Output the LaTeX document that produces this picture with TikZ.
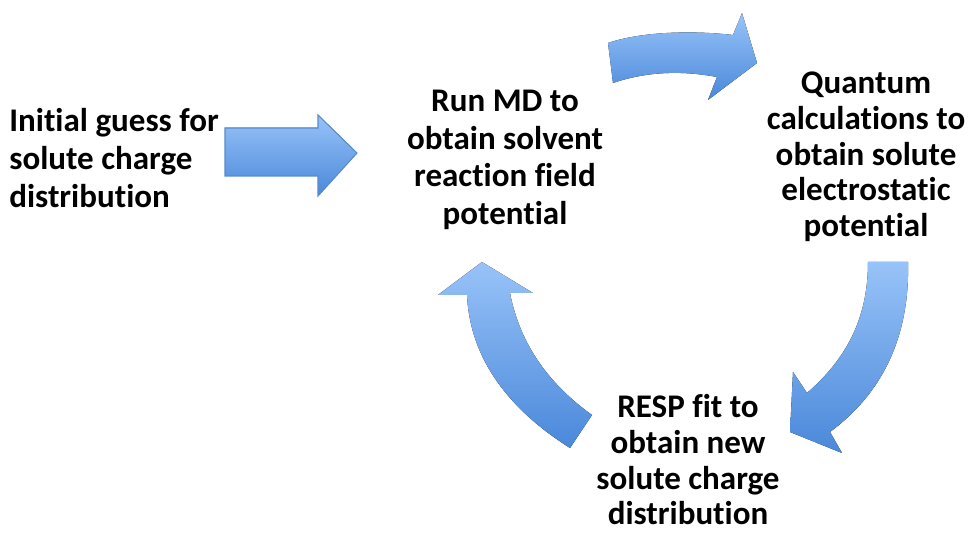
\documentclass[tikz,border=0pt]{standalone}
\usepackage{fontspec}
\setmainfont{Carlito}[Ligatures=NoCommon]
\definecolor{arrowtop}{RGB}{152,195,248}
\definecolor{arrowbot}{RGB}{74,136,218}
\definecolor{arrowline}{RGB}{88,138,205}
\tikzstyle{stage}=[font=\fontsize{18.8}{21.5}\selectfont\bfseries, align=center, inner sep=0pt]
\tikzstyle{stageTight}=[stage, font=\fontsize{18.8}{20.3}\selectfont\bfseries]
\tikzstyle{loopArrow}=[top color=arrowtop, bottom color=arrowbot, draw=none]
\tikzstyle{startArrow}=[loopArrow, draw=arrowline, line width=0.6pt]

\begin{document}
\begin{tikzpicture}[x=0.02cm,y=-0.02cm]
	\useasboundingbox (0,0) rectangle (968,533);
	% Define the nodes in the picture
	\node (init_guess) [stage, align=left, anchor=west] at (9,158) {Initial guess for\\solute charge\\distribution};
	\node (run_md) [stage] at (505,160) {Run MD to\\obtain solvent\\reaction field\\potential};
	\node (quantum) [stageTight] at (866,157) {Quantum\\calculations to\\obtain solute\\electrostatic\\potential};
	\node (resp_fit) [stageTight] at (688,460) {RESP fit to\\obtain new\\solute charge\\distribution};

	% Define the arrows in the picture
	\fill [startArrow] (225,128) -- (318,128) -- (318,115) -- (357,153)
		-- (318,196) -- (318,176) -- (225,176) -- cycle;
	\fill [loopArrow] (608,43) .. controls (640,32) and (690,30) .. (733,35)
		-- (742,13) -- (757,63) -- (708,100) -- (717,77)
		.. controls (680,70) and (645,72) .. (613,83) -- cycle;
	\fill [loopArrow] (868,262) -- (908,262) .. controls (910,340) and (880,395) .. (830,432)
		-- (842,453) -- (790,432) -- (793,372) -- (807,393)
		.. controls (845,360) and (868,320) .. (868,262) -- cycle;
	\fill [loopArrow] (482,262) -- (533,293) -- (510,293)
		.. controls (520,345) and (550,385) .. (592,415)
		-- (570,448) .. controls (510,410) and (470,360) .. (467,295)
		-- (438,295) -- cycle;
\end{tikzpicture}
\end{document}
